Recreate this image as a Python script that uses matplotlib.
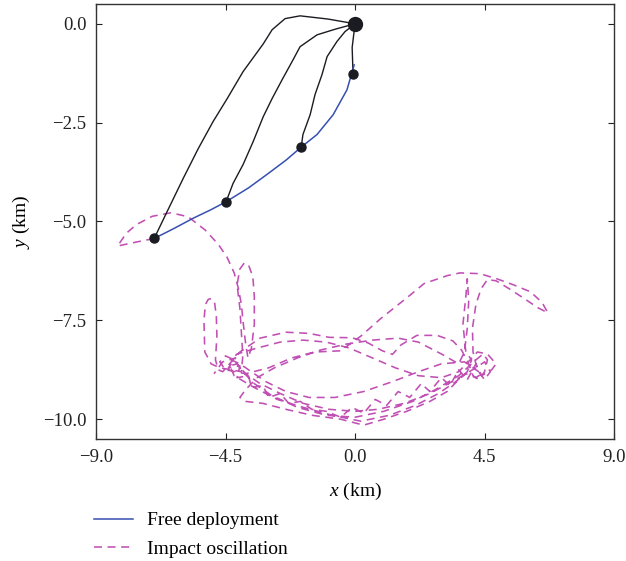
import numpy as np
import matplotlib
matplotlib.use("Agg")
import matplotlib.pyplot as plt

plt.rcParams['font.family'] = ['Liberation Serif', 'DejaVu Serif']
plt.rcParams['mathtext.fontset'] = 'custom'
plt.rcParams['mathtext.it'] = 'Liberation Serif:italic'
plt.rcParams['mathtext.rm'] = 'Liberation Serif'

# tether nodes (km)
top_x = [0.0]
top_y = [0.0]
node_x = [-0.07, -1.87, -4.48, -6.98]
node_y = [-1.26, -3.12, -4.50, -5.43]

# black cable shapes, from top node to each end node
cable1_x = [0.0, -0.1, -0.07]
cable1_y = [0.0, -0.6, -1.26]
cable2_x = [0.0, -0.35, -0.63, -0.97, -1.15, -1.39, -1.56, -1.81, -1.87]
cable2_y = [0.0, -0.2, -0.45, -0.83, -1.29, -1.79, -2.30, -2.80, -3.12]
cable3_x = [0.0, -0.7, -1.32, -1.91, -2.19, -2.53, -2.88, -3.19, -3.54, -3.89, -4.24, -4.48]
cable3_y = [0.0, -0.14, -0.28, -0.58, -0.96, -1.41, -1.89, -2.35, -2.98, -3.56, -4.04, -4.50]
cable4_x = [0.0, -0.95, -1.91, -2.43, -2.88, -3.19, -3.89, -4.44, -4.93, -5.45, -5.97, -6.53, -6.98]
cable4_y = [0.0, 0.12, 0.20, 0.13, -0.15, -0.51, -1.21, -1.89, -2.47, -3.16, -3.91, -4.75, -5.43]

# free deployment path
free_x = [-6.98, -6.3, -5.63, -5.0, -4.48, -3.7, -3.06, -2.4, -1.87, -1.32, -0.76, -0.28, -0.03]
free_y = [-5.43, -5.18, -4.92, -4.70, -4.50, -4.15, -3.81, -3.45, -3.12, -2.80, -2.30, -1.67, -1.04]

# impact oscillation path
osc_x = [-6.98, -7.6, -8.25, -7.95, -7.6, -7.05, -6.4, -5.8, -5.2, -4.75, -4.45, -4.2, -4.05,
         -3.95, -3.88, -3.8, -3.72,
         -3.6, -3.5, -3.5, -3.55, -3.7, -3.85, -4.0, -4.1, -4.0, -3.95, -3.9, -3.95,
         -4.3, -4.7, -5.0, -5.22, -5.25, -5.2, -5.1, -5.0, -4.88, -4.82, -4.8, -4.85, -4.75, -4.6,
         -4.0, -3.3, -2.4, -1.6, -0.9, -0.1, 0.45, 0.95, 1.3, 1.6, 2.15, 2.85, 3.4, 3.7, 3.95,
         4.1, 4.3, 4.5, 4.6, 4.45, 4.2,
         3.6, 2.8, 2.0, 1.0, 0.0, -1.0, -2.0, -2.9, -3.5, -3.9, -4.2, -4.5, -4.7, -4.5,
         -3.8, -3.0, -2.2, -1.4, -0.5, 0.2, 0.9, 1.8, 2.4, 3.2, 3.65, 4.34, 4.93, 5.5, 6.1,
         6.5, 6.7, 6.35, 5.9, 5.4, 4.9, 4.6, 4.38, 4.2, 4.08, 4.1, 4.25, 4.5, 4.7, 4.5, 4.2,
         3.5, 2.6, 1.7, 0.8, 0.0, -0.9, -1.8, -2.6, -3.3, -3.8, -4.1, -4.35, -4.2,
         -3.5, -2.7, -1.8, -0.8, 0.2, 1.2, 2.1, 2.9, 3.5, 3.9, 4.05, 3.85, 3.75, 3.85, 3.9,
         3.95, 3.9, 3.8, 3.6,
         3.0, 2.2, 1.5, 0.6, -0.3, -1.2, -2.0, -2.8, -3.4, -3.8, -4.0, -3.8,
         -3.2, -2.4, -1.5, -0.5, 0.3, 1.0, 1.8, 2.6, 3.2, 3.6, 3.85, 4.2, 4.4,
         3.8, 3.0, 2.2, 1.3, 0.3, -0.7, -1.6, -2.4, -3.1, -3.6, -4.0, -4.3, -4.1,
         -3.4, -2.6, -1.8, -1.0, -0.2, 0.6, 1.4, 2.2, 3.0, 3.6, 4.0, 4.25, 4.6, 4.9, 4.75,
         4.4, 4.2, 3.9, 3.6, 3.3, 3.0, 2.6, 2.3, 1.9, 1.5, 1.1, 0.7, 0.3, -0.1, -0.5, -1.0,
         -1.5, -1.9, -2.3, -2.6, -3.0, -3.2, -3.6, -3.7, -4.1, -4.0, -4.4, -4.15, -4.6, -4.9]
osc_y = [-5.43, -5.52, -5.62, -5.30, -5.08, -4.87, -4.78, -4.88, -5.22, -5.58, -5.90, -6.30, -6.70,
         -7.10, -7.60, -8.10, -8.45,
         -8.20, -7.60, -6.90, -6.40, -6.10, -6.05, -6.20, -6.60, -7.20, -7.80, -8.40, -8.80,
         -8.75, -8.70, -8.60, -8.30, -7.50, -7.10, -6.97, -6.95, -7.05, -7.40, -7.90, -8.50, -8.75, -8.80,
         -8.30, -7.95, -7.80, -7.83, -7.93, -7.94, -8.07, -8.27, -8.36, -8.12, -7.88, -7.88, -8.02, -8.25, -8.60,
         -8.90, -9.00, -8.80, -8.50, -8.35, -8.50,
         -8.90, -9.25, -9.55, -9.80, -9.95, -9.90, -9.70, -9.40, -9.10, -8.80, -8.50, -8.40, -8.55, -8.75,
         -8.85, -8.70, -8.45, -8.30, -8.27, -7.90, -7.45, -6.93, -6.57, -6.37, -6.30, -6.32, -6.45, -6.60, -6.78,
         -7.05, -7.31, -7.18, -6.96, -6.72, -6.50, -6.47, -6.70, -7.10, -7.70, -8.30, -8.75, -9.00, -8.80, -8.55, -8.70,
         -9.00, -9.35, -9.60, -9.75, -9.80, -9.75, -9.60, -9.35, -9.10, -8.85, -8.60, -8.65, -8.90,
         -9.20, -9.50, -9.70, -9.90, -10.05, -9.90, -9.65, -9.35, -9.05, -8.80, -8.50, -8.30, -7.60, -6.90, -6.45,
         -7.00, -7.70, -8.30, -8.60,
         -8.35, -8.05, -7.95, -8.00, -8.10, -8.25, -8.45, -8.70, -8.95, -9.25, -9.45, -9.55,
         -9.60, -9.75, -9.90, -10.00, -10.15, -10.00, -9.80, -9.55, -9.30, -9.00, -8.85, -8.95, -8.85,
         -8.55, -8.60, -8.80, -9.05, -9.30, -9.45, -9.45, -9.30, -9.05, -8.80, -8.60, -8.50, -8.35,
         -8.20, -8.05, -8.00, -8.05, -8.20, -8.45, -8.70, -8.90, -8.95, -8.80, -8.50, -8.30, -8.35, -8.60, -8.75,
         -8.90, -8.60, -9.00, -8.75, -9.15, -8.95, -9.30, -9.10, -9.45, -9.30, -9.65, -9.50, -9.85, -9.70, -9.95, -9.80,
         -9.75, -9.55, -9.60, -9.35, -9.45, -9.15, -9.20, -8.90, -8.95, -8.65, -8.70, -8.45, -8.55, -8.85]

x_ticks = [-9.0, -4.5, 0.0, 4.5, 9.0]
y_ticks = [0.0, -2.5, -5.0, -7.5, -10.0]

fig = plt.figure(figsize=(6.26, 5.61), dpi=100)
ax = fig.add_axes([0.1534, 0.2175, 0.8275, 0.7754])

black = '#1b1b22'
blue = '#3550b0'
magenta = '#c050b4'

for cx, cy in [(cable1_x, cable1_y), (cable2_x, cable2_y), (cable3_x, cable3_y), (cable4_x, cable4_y)]:
    ax.plot(cx, cy, color=black, lw=1.0, zorder=3)

ax.plot(osc_x, osc_y, color=magenta, lw=1.15, dashes=(5.0, 3.5), label='Impact oscillation', zorder=2)
ax.plot(free_x, free_y, color=blue, lw=1.1, label='Free deployment', zorder=4)

ax.plot(node_x, node_y, 'o', color=black, ms=6.5, zorder=5)
ax.plot(top_x, top_y, 'o', color=black, ms=10, zorder=5)

ax.set_xlim(-9, 9)
ax.set_ylim(-10.5, 0.5)
ax.set_xticks(x_ticks)
ax.set_yticks(y_ticks)
ax.set_xticklabels(['\u22129.0', '\u22124.5', '0.0', '4.5', '9.0'])
ax.set_yticklabels(['0.0', '\u22122.5', '\u22125.0', '\u22127.5', '\u221210.0'])
ax.tick_params(direction='in', length=4, width=0.8, labelsize=13.5, top=True, right=True, pad=7,
               colors='#222222')
for s in ax.spines.values():
    s.set_linewidth(1.0)
    s.set_color('#333333')

ax.set_xlabel('$x$ (km)', fontsize=14, labelpad=11)
ax.set_ylabel('$y$ (km)', fontsize=14, labelpad=8)

handles, labels = ax.get_legend_handles_labels()
fig.legend(handles[::-1], labels[::-1], loc='upper left', bbox_to_anchor=(0.135, 0.105),
           frameon=False, fontsize=14, handlelength=2.0, labelspacing=0.55, borderpad=0,
           handletextpad=0.7)

fig.savefig('out.png', dpi=100)
